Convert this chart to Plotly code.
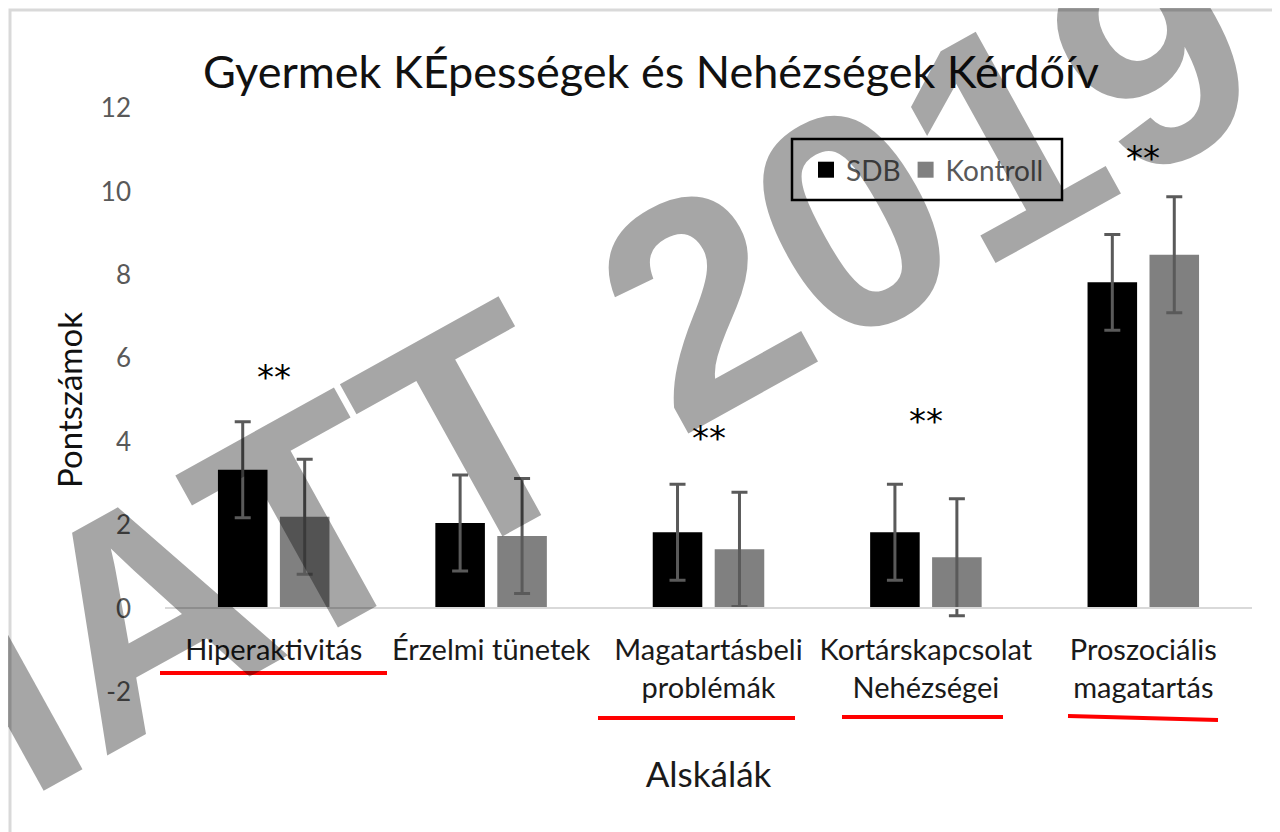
import plotly.graph_objects as go

# ---------------- data ----------------
categories = ["Hiperaktivitás", "Érzelmi tünetek", "Magatartásbeli<br>problémák",
              "Kortárskapcsolat<br>Nehézségei", "Proszociális<br>magatartás"]
series_names = ["SDB", "Kontroll"]
series_colors = ["#000000", "#808080"]
sdb_mean = [3.33, 2.05, 1.83, 1.83, 7.82]
sdb_err = [1.15, 1.15, 1.15, 1.15, 1.15]
kontroll_mean = [2.20, 1.74, 1.42, 1.23, 8.48]
kontroll_err = [1.38, 1.38, 1.37, 1.40, 1.39]
sig_categories = [categories[0], categories[2], categories[3], categories[4]]
sig_y = [5.56, 4.10, 4.50, 10.80]
y_ticks = [-2, 0, 2, 4, 6, 8, 10, 12]
y_ticktext = ["-2", "0", "2", "4", "6", "8", "10", "12"]

# ---------------- layout geometry ----------------
# page body has an 8px margin: reference pixel (X, Y) -> figure pixel (X-8, Y-8)
OFF = 8
W, H = 1280 - OFF, 832 - OFF
ML, MT = 165 - OFF, 108 - OFF
MR = W - (1252 - OFF)
MB = H - (692 - OFF)
PW, PH = W - ML - MR, H - MT - MB


def px(x):
    return (x - OFF - ML) / PW


def py(y):
    return (H - MB - (y - OFF)) / PH


fig = go.Figure()
for name, color, mean, err in zip(series_names, series_colors,
                                  [sdb_mean, kontroll_mean], [sdb_err, kontroll_err]):
    fig.add_trace(go.Bar(
        name=name, x=categories, y=mean, showlegend=False,
        marker=dict(color=color, line=dict(width=0)),
        error_y=dict(type="data", array=err, color="#5a5a5a", thickness=3, width=8),
    ))
# legend entries with larger square swatches
for name, color in zip(series_names, series_colors):
    fig.add_trace(go.Scatter(
        name=name, x=[None], y=[None], mode="markers", showlegend=True,
        marker=dict(symbol="square", size=16, color=color),
    ))

annotations = []
# watermark
annotations.append(dict(
    text="IATT 2019", xref="paper", yref="paper", x=px(600), y=py(360),
    xanchor="center", yanchor="middle", showarrow=False, textangle=-29,
    font=dict(family="Liberation Sans", size=308, color="rgba(0,0,0,0.35)", weight="bold"),
))
for c, yv in zip(sig_categories, sig_y):
    annotations.append(dict(
        text="**", x=c, y=yv, xref="x", yref="y", showarrow=False,
        font=dict(family="DejaVu Sans", size=34, color="#000000"),
    ))

shapes = []
# outer light border
shapes.append(dict(type="rect", xref="paper", yref="paper",
                   x0=px(10), y0=py(10), x1=px(1300), y1=py(860),
                   line=dict(color="#d9d9d9", width=3), layer="below"))
# legend box
shapes.append(dict(type="rect", xref="paper", yref="paper",
                   x0=px(792), y0=py(139), x1=px(1062), y1=py(200),
                   line=dict(color="#000000", width=2.5)))
# red underlines
for (x0, y0, x1, y1) in [(160, 673, 387, 673), (598, 718, 795, 718),
                         (842, 717, 1003, 717), (1068, 716, 1218, 720)]:
    shapes.append(dict(type="line", xref="paper", yref="paper",
                       x0=px(x0), y0=py(y0), x1=px(x1), y1=py(y1),
                       line=dict(color="#ff0000", width=4)))

fig.update_layout(
    width=W, height=H,
    margin=dict(l=ML, r=MR, t=MT, b=MB, autoexpand=False),
    paper_bgcolor="white", plot_bgcolor="white",
    barmode="group", bargap=0.43, bargroupgap=0.2,
    title=dict(text="Gyermek KÉpességek és Nehézségek Kérdőív",
               x=(651 - OFF) / W, xref="container", xanchor="center",
               y=1 - (72 - OFF) / H, yref="container", yanchor="middle",
               font=dict(family="Lato", size=45, color="#111111")),
    xaxis=dict(type="category", anchor="free", position=py(608),
               showline=True, linecolor="#d9d9d9", linewidth=2,
               showgrid=False, zeroline=False, ticks="", ticklabelstandoff=16,
               tickfont=dict(family="Lato", size=29, color="#1a1a1a"),
               title=dict(text="Alskálák", standoff=59,
                          font=dict(family="Lato", size=35, color="#1a1a1a"))),
    yaxis=dict(range=[-2, 12], tickvals=y_ticks, ticktext=y_ticktext,
               showgrid=False, zeroline=False,
               showline=False, ticks="", ticklabelstandoff=33,
               tickfont=dict(family="Lato", size=26, color="#595959"),
               title=dict(text="Pontszámok", standoff=8,
                          font=dict(family="Lato", size=33, color="#111111"))),
    legend=dict(orientation="h", x=px(806), y=py(145), xanchor="left", yanchor="top",
                bgcolor="rgba(0,0,0,0)", borderwidth=0,
                font=dict(family="Lato", size=28, color="#595959"),
                traceorder="normal", itemclick=False),
    annotations=annotations, shapes=shapes,
    showlegend=True,
)

fig.write_html("out.html")
